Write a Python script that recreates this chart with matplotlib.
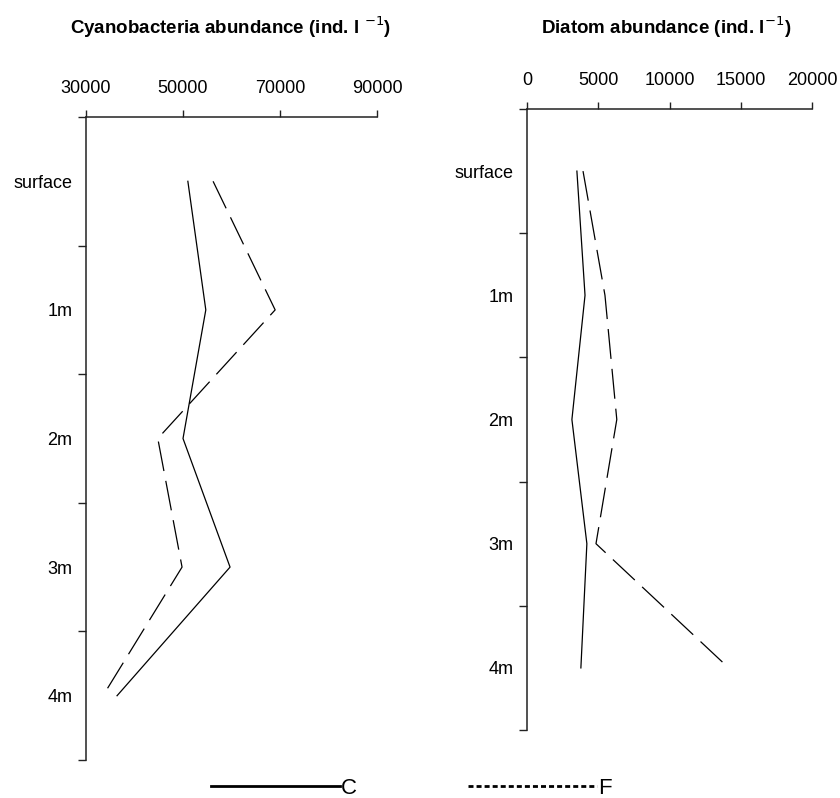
import matplotlib.pyplot as plt
from matplotlib.lines import Line2D

depths = ["surface", "1m", "2m", "3m", "4m"]
depth_pos = [0, 1, 2, 3, 4]

cyano_c = [51000, 54700, 50000, 59700, 36400]
cyano_f = [56200, 69000, 44800, 49800, 33500]
diatom_c = [3500, 4070, 3150, 4200, 3780]
diatom_f = [3930, 5470, 6300, 4840, 14150]

cyano_ticks = [30000, 50000, 70000, 90000]
diatom_ticks = [0, 5000, 10000, 15000, 20000]

plt.rcParams["font.family"] = ["Liberation Sans", "DejaVu Sans"]

fig = plt.figure(figsize=(8.4, 7.98), dpi=100)
ax1 = fig.add_axes([0.1024, 0.0476, 0.3464, 0.8058])
ax2 = fig.add_axes([0.6274, 0.0852, 0.3393, 0.7782])


def style_axis(ax, xticks, xlim):
    ax.set_xlim(*xlim)
    ax.set_ylim(4.5, -0.5)
    for side in ["right", "bottom"]:
        ax.spines[side].set_visible(False)
    for side in ["left", "top"]:
        ax.spines[side].set_linewidth(1.1)
        ax.spines[side].set_color("#222222")
    ax.xaxis.tick_top()
    ax.set_xticks(xticks)
    ax.set_xticklabels([str(t) for t in xticks], fontsize=13)
    ax.tick_params(axis="x", direction="out", length=5, width=1, pad=9.5,
                   color="#222222")
    # ticks sit between categories, labels sit on categories
    ax.set_yticks([-0.5, 0.5, 1.5, 2.5, 3.5, 4.5])
    ax.set_yticklabels([])
    ax.set_yticks(depth_pos, minor=True)
    ax.set_yticklabels(depths, minor=True, fontsize=13)
    ax.tick_params(axis="y", which="major", direction="out", length=6,
                   width=1, color="#222222")
    ax.tick_params(axis="y", which="minor", length=0, pad=10)


style_axis(ax1, cyano_ticks, (30000, 90000))
style_axis(ax2, diatom_ticks, (0, 20000))

ax1.plot(cyano_c, depth_pos, color="black", lw=0.9)
ax1.plot(cyano_f, depth_pos, color="black", lw=0.9, dashes=(24, 8))
ax2.plot(diatom_c, depth_pos, color="black", lw=0.9)
ax2.plot(diatom_f, depth_pos, color="black", lw=0.9, dashes=(24, 8))

fig.text(0.274, 0.966, "Cyanobacteria abundance (ind. l $^{-1}$)",
         ha="center", va="center", fontsize=13.5, fontweight="bold")
fig.text(0.793, 0.966, "Diatom abundance (ind. l$^{-1}$)",
         ha="center", va="center", fontsize=13.5, fontweight="bold")

handles = [
    Line2D([], [], color="black", lw=2),
    Line2D([], [], color="black", lw=2, linestyle=(0, (1.8, 1.1))),
]
fig.legend(handles, ["C", "F"], loc="center", bbox_to_anchor=(0.490, 0.012),
           ncol=2, frameon=False, fontsize=16, handlelength=5.8,
           handletextpad=0.05, columnspacing=5.0, borderpad=0)

fig.savefig("out.png", dpi=100)
